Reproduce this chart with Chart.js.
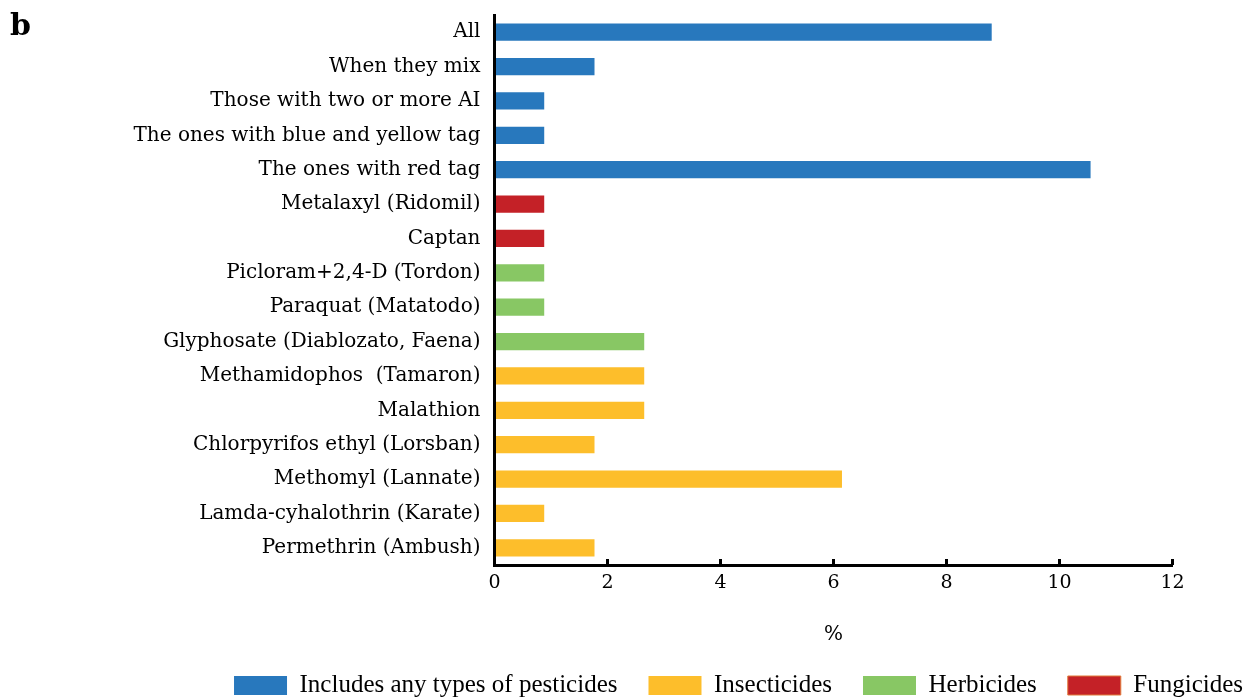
<!DOCTYPE html>
<html>
<head>
<meta charset="utf-8">
<script src="https://cdn.jsdelivr.net/npm/chart.js@4.4.1/dist/chart.umd.min.js"></script>
<style>
  html, body { margin: 0; padding: 0; background: #fff; overflow: hidden; }
  #wrap { position: relative; width: 1256px; height: 700px; overflow: hidden; }
  #tag { position: absolute; left: 10px; top: 7px; font: bold 30px "DejaVu Serif", serif; color: #000; }
  canvas { position: absolute; left: 0; top: 0; }
</style>
</head>
<body>
<div id="wrap">
  <canvas id="c" width="1274" height="708"></canvas>
  <div id="tag">b</div>
</div>
<script>
const categories = [
  'All',
  'When they mix',
  'Those with two or more AI',
  'The ones with blue and yellow tag',
  'The ones with red tag',
  'Metalaxyl (Ridomil)',
  'Captan',
  'Picloram+2,4-D (Tordon)',
  'Paraquat (Matatodo)',
  'Glyphosate (Diablozato, Faena)',
  'Methamidophos  (Tamaron)',
  'Malathion',
  'Chlorpyrifos ethyl (Lorsban)',
  'Methomyl (Lannate)',
  'Lamda-cyhalothrin (Karate)',
  'Permethrin (Ambush)'
];
const values = [8.80, 1.77, 0.88, 0.88, 10.55, 0.88, 0.88, 0.88, 0.88, 2.65, 2.65, 2.65, 1.77, 6.15, 0.88, 1.77];
const groups = ['any', 'any', 'any', 'any', 'any', 'fung', 'fung', 'herb', 'herb', 'herb', 'ins', 'ins', 'ins', 'ins', 'ins', 'ins'];

const groupKeys   = ['any', 'ins', 'herb', 'fung'];
const groupNames  = ['Includes any types of pesticides', 'Insecticides', 'Herbicides', 'Fungicides'];
const groupColors = ['#2878BD', '#FDBE2B', '#88C764', '#C42127'];

const FONT = 'DejaVu Serif';
const CANVAS_W = 1274;          // a bit wider/taller than the window, overflow is hidden
const AXIS_LEFT = 494.5, AXIS_RIGHT = 1172.5;

// one dataset per group so the legend gets one entry each; stacking keeps bars centred
const datasets = groupKeys.map((k, gi) => ({
  label: groupNames[gi],
  data: values.map((v, i) => groups[i] === k ? v : null),
  backgroundColor: groupColors[gi],
  borderWidth: 0,
  barPercentage: 0.5,
  categoryPercentage: 1
}));

// small tick marks pointing up into the plot
const innerTicks = {
  id: 'innerTicks',
  afterDraw(chart) {
    const s = chart.scales.x, ctx = chart.ctx, b = chart.chartArea.bottom;
    ctx.save();
    ctx.fillStyle = '#000';
    s.ticks.forEach((t, i) => {
      const px = s.getPixelForTick(i);
      ctx.fillRect(px - 1.5, b - 6, 3, 6);
    });
    ctx.restore();
  }
};

new Chart(document.getElementById('c'), {
  type: 'bar',
  data: { labels: categories, datasets },
  options: {
    indexAxis: 'y',
    responsive: false,
    animation: false,
    layout: { padding: { left: 0, right: 0, top: 15, bottom: 0 } },
    scales: {
      x: {
        stacked: true, min: 0, max: 12,
        ticks: { stepSize: 2, color: '#000', font: { family: FONT, size: 19 }, padding: 7 },
        grid: { display: false, drawTicks: false },
        border: { color: '#000', width: 3, z: 1 },
        title: { display: true, text: '%', color: '#000', font: { family: FONT, size: 20, lineHeight: 1 }, padding: { top: 20, bottom: -3 } },
        afterFit(s) { s.height = 77; }
      },
      y: {
        stacked: true,
        ticks: { color: '#000', font: { family: FONT, size: 20 }, padding: 14, autoSkip: false },
        grid: { display: false, drawTicks: false },
        border: { color: '#000', width: 3, z: 1 },
        afterFit(s) { s.width = AXIS_LEFT; s.paddingTop = 0; s.paddingBottom = 0; }
      },
      y2: {
        position: 'right', display: true,
        ticks: { display: false },
        grid: { display: false, drawTicks: false },
        border: { display: false },
        afterFit(s) { s.width = CANVAS_W - AXIS_RIGHT; s.paddingTop = 0; s.paddingBottom = 0; }
      }
    },
    plugins: {
      legend: {
        position: 'bottom',
        align: 'end',
        labels: {
          boxWidth: 53, boxHeight: 19, padding: 31, color: '#000',
          font: { family: 'Liberation Serif', size: 25 },
          generateLabels(chart) {
            const items = Chart.defaults.plugins.legend.labels.generateLabels(chart);
            items.forEach(it => {
              if (it.text === 'Fungicides') { it.strokeStyle = '#E07A3A'; it.lineWidth = 1; }
            });
            return items;
          }
        }
      },
      tooltip: { enabled: false }
    }
  },
  plugins: [innerTicks]
});
</script>
</body>
</html>
